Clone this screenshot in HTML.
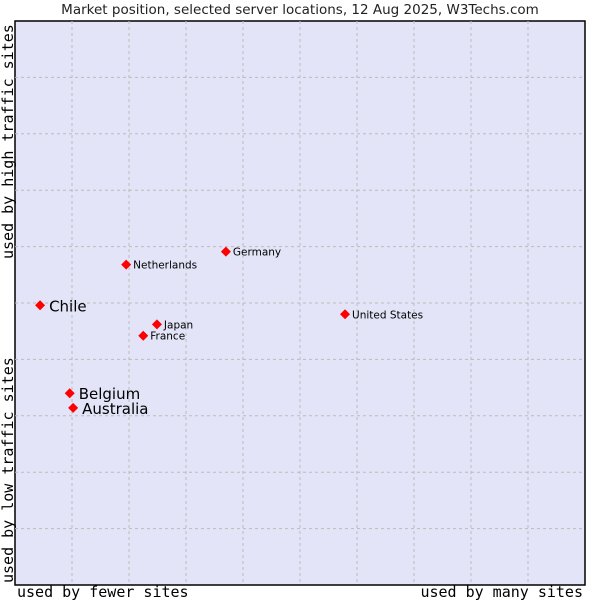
<!DOCTYPE html>
<html><head><meta charset="utf-8"><style>
body{margin:0;background:#fff;width:600px;height:600px;overflow:hidden}
svg{display:block}
</style></head><body>
<svg id="chart" width="600" height="600">
<text x="300" y="14" text-anchor="middle" font-family="DejaVu Sans, sans-serif" font-size="13.5" fill="#222">Market position, selected server locations, 12 Aug 2025, W3Techs.com</text>
<rect x="15" y="21" width="570" height="564" fill="#e3e4f8" stroke="#000" stroke-width="1.5"/>
<g id="grid"></g>
<g id="pts"></g>
<text x="17" y="597" font-family="DejaVu Sans Mono, monospace" font-size="15" fill="#000">used by fewer sites</text>
<text x="583" y="597" text-anchor="end" font-family="DejaVu Sans Mono, monospace" font-size="15" fill="#000">used by many sites</text>
<text transform="translate(13,583) rotate(-90)" font-family="DejaVu Sans Mono, monospace" font-size="15" fill="#000">used by low traffic sites</text>
<text transform="translate(13,259) rotate(-90)" font-family="DejaVu Sans Mono, monospace" font-size="15" fill="#000">used by high traffic sites</text>
</svg>
<script>
const names=["Chile","Belgium","Australia","Netherlands","Germany","Japan","France","United States"];
const xs=[4.4,9.6,10.2,19.5,37.0,24.9,22.5,57.9];
const ys=[49.6,34.0,31.4,56.8,59.1,46.2,44.2,48.0];
const big=[true,true,true,false,false,false,false,false];
const X=v=>15+v*5.7, Y=v=>585-v*5.64;
const NS="http://www.w3.org/2000/svg";
const g=document.getElementById('grid');
for(let i=1;i<10;i++){
 let l=document.createElementNS(NS,'line');
 l.setAttribute('x1',X(i*10));l.setAttribute('x2',X(i*10));l.setAttribute('y1',21);l.setAttribute('y2',585);
 l.setAttribute('stroke','#bbb');l.setAttribute('stroke-dasharray','3,3');
 
 
 g.appendChild(l);
 let h=document.createElementNS(NS,'line');
 h.setAttribute('y1',Y(i*10));h.setAttribute('y2',Y(i*10));h.setAttribute('x1',15);h.setAttribute('x2',585);
 h.setAttribute('stroke','#bbb');h.setAttribute('stroke-dasharray','3,3');
 
 
 g.appendChild(h);
}
const p=document.getElementById('pts');
names.forEach((n,i)=>{
 const cx=X(xs[i]),cy=Y(ys[i]);
 let d=document.createElementNS(NS,'path');
 d.setAttribute('d',`M${cx},${cy-5}L${cx+5},${cy}L${cx},${cy+5}L${cx-5},${cy}Z`);
 d.setAttribute('fill','#f00');
 
 
 p.appendChild(d);
 let t=document.createElementNS(NS,'text');
 t.setAttribute('x',cx+(big[i]?9:7));t.setAttribute('y',cy+(big[i]?6:4));
 t.setAttribute('font-family','DejaVu Sans, sans-serif');
 t.setAttribute('font-size',big[i]?15:10.5);t.setAttribute('fill','#000');
 t.textContent=n;
 
 
 p.appendChild(t);
});
</script>
</body></html>
